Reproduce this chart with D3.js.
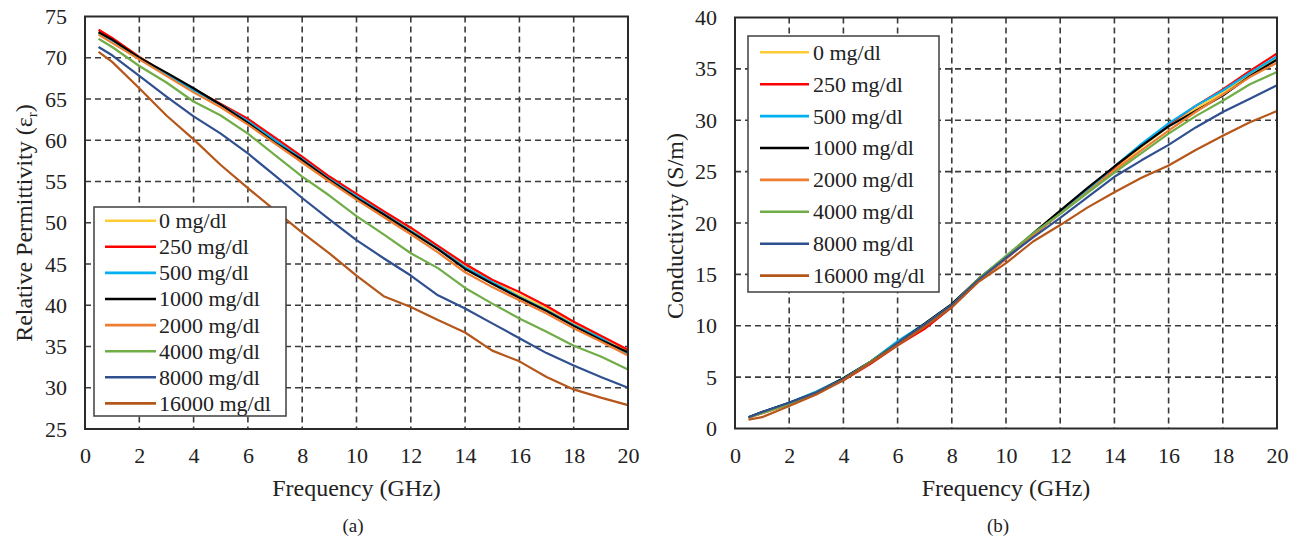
<!DOCTYPE html>
<html>
<head>
<meta charset="utf-8">
<script src="https://cdn.jsdelivr.net/npm/d3@7"></script>
<style>
  html, body { margin: 0; padding: 0; background: #fff; }
</style>
</head>
<body>
<svg id="chart" width="1297" height="541"></svg>
<script>
// ---------------- DATA ----------------
const freq = [0.5, 1, 2, 3, 4, 5, 6, 7, 8, 9, 10, 11, 12, 13, 14, 15, 16, 17, 18, 19, 20];
const seriesNames = ["0 mg/dl", "250 mg/dl", "500 mg/dl", "1000 mg/dl", "2000 mg/dl", "4000 mg/dl", "8000 mg/dl", "16000 mg/dl"];
const seriesColors = ["#FFCC33", "#FF0000", "#00B0F0", "#000000", "#ED7D31", "#70AD47", "#2F4F8F", "#B5561A"];

// Relative permittivity
const perm0     = [73.2, 72.3, 70.1, 68.1, 66.2, 64.4, 62.4, 60.1, 57.8, 55.4, 53.3, 51.2, 49.2, 47.0, 44.8, 42.9, 41.2, 39.6, 37.8, 36.2, 34.5];
const perm250   = [73.4, 72.4, 70.1, 68.0, 66.2, 64.4, 62.6, 60.3, 58.0, 55.6, 53.5, 51.4, 49.4, 47.2, 45.0, 43.1, 41.6, 39.9, 38.0, 36.3, 34.6];
const perm500   = [73.0, 72.1, 70.0, 68.0, 66.1, 64.3, 62.3, 60.0, 57.7, 55.3, 53.2, 51.1, 49.0, 46.9, 44.6, 42.8, 41.0, 39.4, 37.6, 36.0, 34.1];
const perm1000  = [73.1, 72.2, 70.0, 68.2, 66.3, 64.3, 62.1, 59.7, 57.6, 55.2, 53.0, 51.0, 48.9, 46.8, 44.4, 42.6, 40.9, 39.3, 37.5, 35.8, 34.3];
const perm2000  = [72.8, 71.8, 69.8, 67.8, 65.8, 64.0, 61.9, 59.6, 57.3, 55.0, 52.8, 50.7, 48.6, 46.4, 44.0, 42.2, 40.6, 39.0, 37.2, 35.6, 33.9];
const perm4000  = [72.3, 71.3, 69.0, 67.0, 64.7, 63.0, 60.8, 58.2, 55.6, 53.3, 50.8, 48.6, 46.3, 44.5, 42.1, 40.2, 38.4, 36.8, 35.1, 33.8, 32.2];
const perm8000  = [71.3, 70.3, 67.8, 65.3, 62.9, 60.8, 58.4, 55.7, 53.0, 50.4, 47.9, 45.7, 43.6, 41.2, 39.6, 37.8, 36.0, 34.2, 32.7, 31.3, 30.0];
const perm16000 = [70.7, 69.5, 66.3, 63.0, 60.1, 57.0, 54.2, 51.5, 48.8, 46.3, 43.6, 41.1, 39.8, 38.2, 36.7, 34.5, 33.2, 31.3, 29.8, 28.8, 27.9];

// Conductivity (S/m)
const cond0     = [1.1, 1.5, 2.4, 3.5, 4.8, 6.4, 8.3, 10.1, 12.0, 14.5, 16.6, 18.8, 21.0, 23.2, 25.3, 27.4, 29.4, 31.1, 32.7, 34.4, 36.1];
const cond250   = [1.1, 1.5, 2.4, 3.5, 4.7, 6.3, 8.1, 9.7, 11.8, 14.4, 16.5, 18.8, 21.0, 23.3, 25.4, 27.6, 29.6, 31.4, 33.0, 34.8, 36.5];
const cond500   = [1.1, 1.6, 2.5, 3.6, 4.9, 6.5, 8.5, 10.2, 12.1, 14.5, 16.6, 18.8, 21.0, 23.2, 25.5, 27.7, 29.7, 31.4, 32.9, 34.6, 36.2];
const cond1000  = [1.1, 1.6, 2.5, 3.5, 4.9, 6.5, 8.3, 10.2, 12.1, 14.6, 16.7, 19.0, 21.2, 23.4, 25.5, 27.5, 29.4, 30.9, 32.4, 34.3, 35.9];
const cond2000  = [1.0, 1.5, 2.4, 3.5, 4.8, 6.4, 8.2, 10.1, 12.0, 14.4, 16.5, 18.8, 20.9, 23.0, 25.1, 27.1, 29.0, 30.8, 32.5, 34.2, 35.6];
const cond4000  = [1.1, 1.5, 2.4, 3.5, 4.8, 6.5, 8.3, 10.1, 12.0, 14.6, 16.8, 19.0, 20.9, 22.9, 24.9, 26.8, 28.7, 30.4, 31.9, 33.5, 34.7];
const cond8000  = [1.1, 1.6, 2.5, 3.5, 4.8, 6.4, 8.3, 10.1, 12.0, 14.5, 16.6, 18.6, 20.5, 22.5, 24.5, 26.1, 27.6, 29.3, 30.8, 32.1, 33.4];
const cond16000 = [0.85, 1.1, 2.2, 3.3, 4.7, 6.4, 8.1, 9.9, 11.8, 14.3, 16.1, 18.2, 19.8, 21.5, 23.0, 24.4, 25.6, 27.1, 28.5, 29.8, 30.9];

const xTicks = [0, 2, 4, 6, 8, 10, 12, 14, 16, 18, 20];
const permTicks = [25, 30, 35, 40, 45, 50, 55, 60, 65, 70, 75];
const condTicks = [0, 5, 10, 15, 20, 25, 30, 35, 40];

// ---------------- DRAW ----------------
const FONT = "Liberation Serif";
const svg = d3.select("#chart");

function styleText(sel, size) {
  return sel.style("font-family", FONT).style("font-size", size + "px").style("fill", "#222");
}

function drawPanel(cfg) {
  const g = svg.append("g");
  const x = d3.scaleLinear().domain([0, 20]).range([cfg.left, cfg.right]);
  const y = d3.scaleLinear().domain(cfg.yDomain).range([cfg.bottom, cfg.top]);

  // grid
  const grid = g.append("g").attr("stroke", "#3a3a3a").attr("stroke-width", 1.6)
    .attr("stroke-dasharray", "6,4").attr("fill", "none");
  grid.selectAll("line.v").data(xTicks.slice(1, -1)).join("line")
    .attr("x1", d => x(d)).attr("x2", d => x(d))
    .attr("y1", cfg.top).attr("y2", cfg.bottom);
  grid.selectAll("line.h").data(cfg.yTicks.slice(1, -1)).join("line")
    .attr("x1", cfg.left).attr("x2", cfg.right)
    .attr("y1", d => y(d)).attr("y2", d => y(d));

  // lines
  const line = d3.line().x((d, i) => x(freq[i])).y(d => y(d));
  cfg.series.forEach((s, i) => {
    g.append("path").datum(s)
      .attr("d", line)
      .attr("fill", "none")
      .attr("stroke", seriesColors[i])
      .attr("stroke-width", 2.2)
      .attr("stroke-linejoin", "round");
  });

  // frame
  g.append("rect").attr("x", cfg.left).attr("y", cfg.top)
    .attr("width", cfg.right - cfg.left).attr("height", cfg.bottom - cfg.top)
    .attr("fill", "none").attr("stroke", "#2a2a2a").attr("stroke-width", 2);

  // axes (tick labels via d3 axes, domain/ticks hidden)
  const xAxis = g.append("g").attr("transform", `translate(0,${cfg.bottom})`)
    .call(d3.axisBottom(x).tickValues(xTicks).tickSize(0).tickPadding(28).tickFormat(d3.format("d")));
  const yAxis = g.append("g").attr("transform", `translate(${cfg.left},0)`)
    .call(d3.axisLeft(y).tickValues(cfg.yTicks).tickSize(0).tickPadding(18).tickFormat(d3.format("d")));
  [xAxis, yAxis].forEach(a => {
    a.select(".domain").remove();
    a.attr("font-family", FONT);
    styleText(a.selectAll("text"), 22);
  });
  xAxis.selectAll("text").attr("dy", 0).attr("y", 463 - cfg.bottom);

  // legend
  const L = cfg.legend;
  const lg = g.append("g");
  lg.append("rect").attr("x", L.x0).attr("y", L.y0)
    .attr("width", L.x1 - L.x0).attr("height", L.y1 - L.y0)
    .attr("fill", "#fff").attr("stroke", "#4a4a4a").attr("stroke-width", 1.6);
  seriesNames.forEach((name, i) => {
    const cy = L.row0 + i * L.step;
    lg.append("line").attr("x1", L.lx0).attr("x2", L.lx1).attr("y1", cy).attr("y2", cy)
      .attr("stroke", seriesColors[i]).attr("stroke-width", 2.6);
    styleText(lg.append("text").attr("x", L.tx).attr("y", cy).attr("dy", "0.34em"), 22).text(name);
  });

  // axis titles
  styleText(g.append("text").attr("x", (cfg.left + cfg.right) / 2).attr("y", 496)
    .attr("text-anchor", "middle"), 24).text("Frequency (GHz)");
  const yt = styleText(g.append("text")
    .attr("transform", `translate(${cfg.yTitleX},${cfg.yTitleY}) rotate(-90)`)
    .attr("text-anchor", "middle"), 24);
  cfg.yTitle(yt);

  styleText(g.append("text").attr("x", cfg.panelX).attr("y", 532)
    .attr("text-anchor", "middle"), 19).text(cfg.panelLabel);
}

drawPanel({
  left: 85, right: 628, top: 16.5, bottom: 429,
  yDomain: [25, 75], yTicks: permTicks,
  series: [perm0, perm250, perm500, perm1000, perm2000, perm4000, perm8000, perm16000],
  legend: { x0: 94, x1: 286, y0: 207, y1: 416, row0: 220.7, step: 26.1, lx0: 105, lx1: 156, tx: 159 },
  yTitleX: 32, yTitleY: 223,
  yTitle: t => {
    t.append("tspan").text("Relative Permittivity (ε");
    t.append("tspan").style("font-size", "15px").attr("dy", 5).text("r");
    t.append("tspan").attr("dy", -5).text(")");
  },
  panelX: 353, panelLabel: "(a)"
});

drawPanel({
  left: 735, right: 1277, top: 17.5, bottom: 428.5,
  yDomain: [0, 40], yTicks: condTicks,
  series: [cond0, cond250, cond500, cond1000, cond2000, cond4000, cond8000, cond16000],
  legend: { x0: 748, x1: 939, y0: 36, y1: 292, row0: 52.3, step: 31.9, lx0: 760, lx1: 809, tx: 813 },
  yTitleX: 683, yTitleY: 226,
  yTitle: t => { t.text("Conductivity (S/m)"); },
  panelX: 998, panelLabel: "(b)"
});
</script>
</body>
</html>
